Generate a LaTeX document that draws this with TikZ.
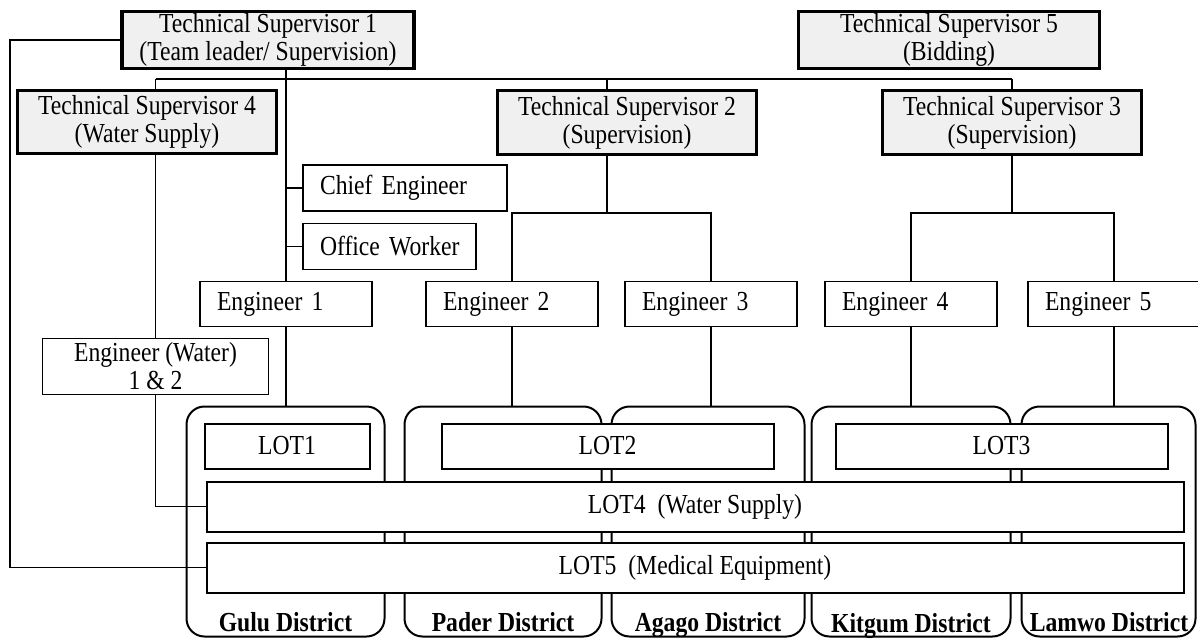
\documentclass[tikz,border=0pt]{standalone}
\usepackage{fontspec}
\setmainfont{Liberation Serif}[FakeStretch=0.86]
\begin{document}
\begin{tikzpicture}[x=1pt,y=-1pt,
  every node/.style={font=\fontsize{27.5}{28}\selectfont, inner sep=0pt},
  tsbox/.style={draw, line width=3.2pt, fill={rgb,255:red,240;green,240;blue,240}, align=center},
  plainbox/.style={draw, line width=1.8pt, fill=white, align=center},
  engbox/.style={draw, line width=1.8pt, fill=white, align=left, inner xsep=17pt, text width=#1},
  lotbox/.style={draw, line width=2pt, fill=white, align=center},
  distbox/.style={draw, line width=2pt, rounded corners=18pt},
  distlabel/.style={font=\fontsize{27.5}{28}\selectfont\bfseries, anchor=base},
  conn/.style={line width=1.7pt},
  busline/.style={line width=2.6pt}
]
\useasboundingbox (0,0) rectangle (1198,639);

% top supervisors
\node[tsbox, minimum width=292, minimum height=57] (ts1) at (268,40) {Technical Supervisor 1\\(Team leader/ Supervision)};
\node[tsbox, minimum width=301, minimum height=57] (ts5) at (949,40) {Technical Supervisor 5\\(Bidding)};
\node[tsbox, minimum width=259, minimum height=63] (ts4) at (147,122) {Technical Supervisor 4\\(Water Supply)};
\node[tsbox, minimum width=259, minimum height=64] (ts2) at (627,122.5) {Technical Supervisor 2\\(Supervision)};
\node[tsbox, minimum width=259, minimum height=64] (ts3) at (1012,122.5) {Technical Supervisor 3\\(Supervision)};

% staff
\node[engbox=170pt, minimum height=46] (chief) at (405,188) {\mbox{Chief Engineer}};
\node[engbox=139pt, minimum height=46] (office) at (389.5,246.5) {\mbox{Office Worker}};
\node[engbox=138pt, minimum height=45] (eng1) at (286,304) {\mbox{Engineer 1}};
\node[engbox=138pt, minimum height=45] (eng2) at (512,304) {\mbox{Engineer 2}};
\node[engbox=138pt, minimum height=45] (eng3) at (711,304) {\mbox{Engineer 3}};
\node[engbox=138pt, minimum height=45] (eng4) at (911,304) {\mbox{Engineer 4}};
\node[engbox=138pt, minimum height=45] (eng5) at (1114,304) {\mbox{Engineer 5}};
\node[plainbox, minimum width=226, minimum height=56] (ew) at (155.5,366.5) {Engineer (Water)\\1 \& 2};

% districts
\node[distbox, minimum width=198, minimum height=230] (gulu) at (285.5,521.5) {};
\node[distbox, minimum width=197, minimum height=230] (pader) at (503,521.5) {};
\node[distbox, minimum width=193, minimum height=230] (agago) at (708,521.5) {};
\node[distbox, minimum width=199, minimum height=230] (kitgum) at (911,521.5) {};
\node[distbox, minimum width=174, minimum height=230] (lamwo) at (1108.5,521.5) {};

\node[distlabel] (gululab) at (285.5,631) {Gulu District};
\node[distlabel] (paderlab) at (503,631) {Pader District};
\node[distlabel] (agagolab) at (708,631) {Agago District};
\node[distlabel] (kitgumlab) at (911,632) {Kitgum District};
\node[distlabel] (lamwolab) at (1109,631) {Lamwo District};

% lots
\node[lotbox, minimum width=165, minimum height=45] (lot1) at (287,446) {LOT1};
\node[lotbox, minimum width=332, minimum height=45] (lot2) at (607.5,446) {LOT2};
\node[lotbox, minimum width=332, minimum height=45] (lot3) at (1001.5,446) {LOT3};
\node[lotbox, minimum width=977, minimum height=50] (lot4) at (695,506.5) {LOT4\ \ (Water Supply)};
\node[lotbox, minimum width=977, minimum height=50] (lot5) at (695,567.5) {LOT5\ \ (Medical Equipment)};

% helper coordinates
\coordinate (bus) at (0,79);
\coordinate (lx) at (10,0);
\coordinate (c2) at (607,213);
\coordinate (c3) at (1012,213);

% bus from supervisors
\draw[busline] (ew.north |- bus) -- (ts3.north |- bus);
\draw[conn] (ew.north |- bus) -- (ts4.north -| ew.north);
\draw[conn] (c2 |- bus) -- (ts2.north -| c2);
\draw[conn] (ts3.north |- bus) -- (ts3.north);

% TS1 line
\draw[conn] (ts1.south -| eng1.north) -- (eng1.north);
\draw[conn] (eng1.north |- chief.west) -- (chief.west);
\draw[conn] (eng1.north |- office.west) -- (office.west);
\draw[conn] (eng1.south) -- (gulu.north -| eng1.south);
\draw[conn] (ts1.west) -- (ts1.west -| lx) |- (lot5.west);

% TS4 line
\draw[conn] (ts4.south -| ew.north) -- (ew.north);
\draw[conn] (ew.south) |- (lot4.west);

% TS2 branch
\draw[conn] (ts2.south -| c2) -- (c2);
\draw[conn] (eng2.north) |- (c2) -| (eng3.north);
\draw[conn] (eng2.south) -- (pader.north -| eng2.south);
\draw[conn] (eng3.south) -- (agago.north -| eng3.south);

% TS3 branch
\draw[conn] (ts3.south) -- (c3);
\draw[conn] (eng4.north) |- (c3) -| (eng5.north);
\draw[conn] (eng4.south) -- (kitgum.north -| eng4.south);
\draw[conn] (eng5.south) -- (lamwo.north -| eng5.south);
\end{tikzpicture}
\end{document}
